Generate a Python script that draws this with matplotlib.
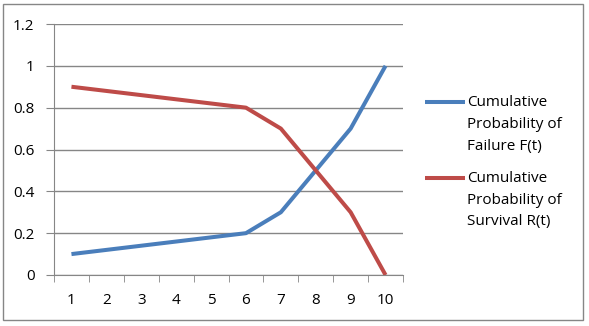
import numpy as np
import matplotlib.pyplot as plt
from matplotlib.patches import Rectangle
from matplotlib.lines import Line2D

# Data
t = [1, 2, 3, 4, 5, 6, 7, 8, 9, 10]
failure = [0.1, 0.12, 0.14, 0.16, 0.18, 0.2, 0.3, 0.5, 0.7, 1.0]
survival = [0.9, 0.88, 0.86, 0.84, 0.82, 0.8, 0.7, 0.5, 0.3, 0.0]
yticks = [0, 0.2, 0.4, 0.6, 0.8, 1, 1.2]
ytick_labels = ['0', '0.2', '0.4', '0.6', '0.8', '1', '1.2']
series_names = [['Cumulative', 'Probability of', 'Failure F(t)'],
                ['Cumulative', 'Probability of', 'Survival R(t)']]
colors = ['#4A7EBB', '#BE4B48']

grey = '#868686'
plt.rcParams['font.family'] = ['Open Sans', 'DejaVu Sans']

W, H = 589, 326
fig = plt.figure(figsize=(W / 100, H / 100), dpi=100)
fig.patches.append(Rectangle((3 / W, 1 - 320 / H), 580 / W, 316 / H,
                             transform=fig.transFigure, fill=False,
                             edgecolor=grey, lw=1))

ax = fig.add_axes([54 / W, 1 - 275 / H, 349 / W, 251 / H])
ax.plot(t, failure, color=colors[0], lw=2.9, solid_capstyle='butt')
ax.plot(t, survival, color=colors[1], lw=2.9, solid_capstyle='butt')

ax.set_xlim(0.5, 10.5)
ax.set_ylim(0, 1.2)
ax.set_yticks(yticks)
ax.set_yticklabels(ytick_labels)
ax.set_xticks(t)
ax.set_xticks(np.arange(0.5, 11, 1), minor=True)
ax.tick_params(axis='x', which='major', length=0, pad=13, labelsize=11)
ax.tick_params(axis='x', which='minor', length=5, color=grey, direction='out')
ax.tick_params(axis='y', length=6, color=grey, direction='out', pad=8, labelsize=11)
ax.grid(axis='y', color=grey, lw=1)
for s in ['top', 'right']:
    ax.spines[s].set_visible(False)
for s in ['left', 'bottom']:
    ax.spines[s].set_color(grey)
ax.set_axisbelow(True)

# legend, drawn by hand so the key sits at the first text line
for names, c, y0 in zip(series_names, colors, [102, 178]):
    fig.lines.append(Line2D([425 / W, 465 / W], [1 - y0 / H] * 2,
                            transform=fig.transFigure, color=c, lw=2.9,
                            solid_capstyle='butt'))
    for i, line in enumerate(names):
        fig.text(467 / W, 1 - (y0 + 22 * i) / H, line, fontsize=11,
                 va='center', ha='left', color='black')

fig.savefig('out.png', dpi=100)
